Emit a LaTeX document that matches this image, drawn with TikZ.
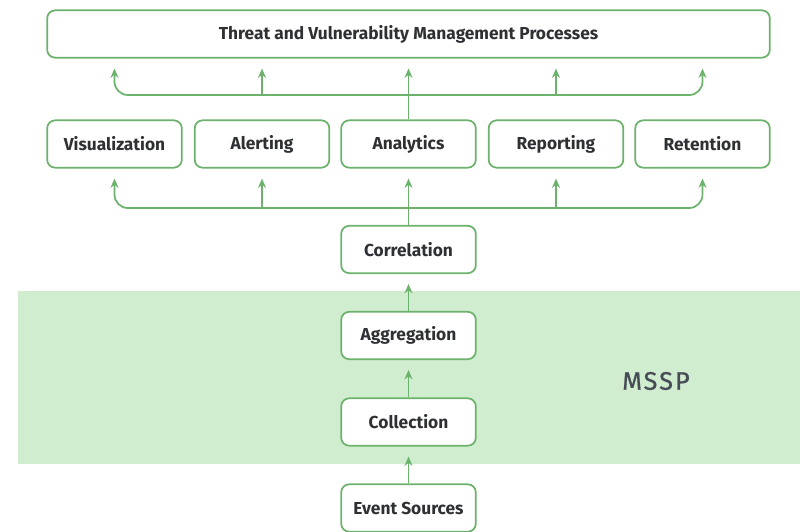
\documentclass[tikz,border=0pt]{standalone}
\usepackage{fontspec}
\setmainfont{Fira Sans}
\usetikzlibrary{arrows.meta}
\definecolor{lgreen}{HTML}{6CB26C}
\definecolor{band}{HTML}{D0EDD0}
\definecolor{txt}{HTML}{2E3033}
\definecolor{mssp}{HTML}{474C57}
\tikzset{
  box/.style={draw=lgreen, line width=1.3pt, fill=white, rounded corners=6pt,
    minimum width=101pt, minimum height=35.5pt, inner sep=0pt,
    font=\bfseries\fontsize{13}{15}\selectfont, text=txt},
  arr/.style={draw=lgreen, line width=1.3pt, -{Stealth[length=7pt,width=6pt]}, shorten >=7.5pt},
  bus/.style={arr, rounded corners=10pt}
}
\begin{document}
\begin{tikzpicture}[x=0.75pt,y=-0.75pt]
\useasboundingbox (0,0) rectangle (800,532);
\fill[band] (18,291) rectangle (800,464);
\node[box, minimum width=542pt] (top) at (408.5,34) {Threat and Vulnerability Management Processes};
\node[box] (vis) at (114.5,144) {Visualization};
\node[box] (ale) at (262,144) {Alerting};
\node[box] (ana) at (408.5,144) {Analytics};
\node[box] (rep) at (556,144) {Reporting};
\node[box] (ret) at (702.5,144) {Retention};
\node[box] (cor) at (408.5,249.5) {Correlation};
\node[box] (agg) at (408.5,335.5) {Aggregation};
\node[box] (col) at (408.5,422) {Collection};
\node[box] (evt) at (408.5,508) {Event Sources};
\node[font=\fontsize{19}{21}\selectfont\addfontfeature{LetterSpace=8,FakeBold=0.8}, text=mssp] (ms) at (656,381) {MSSP};
\coordinate (lb) at (408.5,208);
\coordinate (ub) at (408.5,95);
% lower bus
\draw[arr] (cor.north) -- (ana.south);
\draw[bus] (lb) -| (vis.south);
\draw[bus] (lb) -| (ret.south);
\draw[arr] (lb -| ale.south) -- (ale.south);
\draw[arr] (lb -| rep.south) -- (rep.south);
% upper bus
\draw[arr] (ana.north) -- (top.south);
\draw[bus] (ub) -| (vis.south |- top.south);
\draw[bus] (ub) -| (ret.south |- top.south);
\draw[arr] (ub -| ale.south) -- (ale.south |- top.south);
\draw[arr] (ub -| rep.south) -- (rep.south |- top.south);
% vertical chain
\draw[arr] (agg.north) -- (cor.south);
\draw[arr] (col.north) -- (agg.south);
\draw[arr] (evt.north) -- (col.south);
\end{tikzpicture}
\end{document}
